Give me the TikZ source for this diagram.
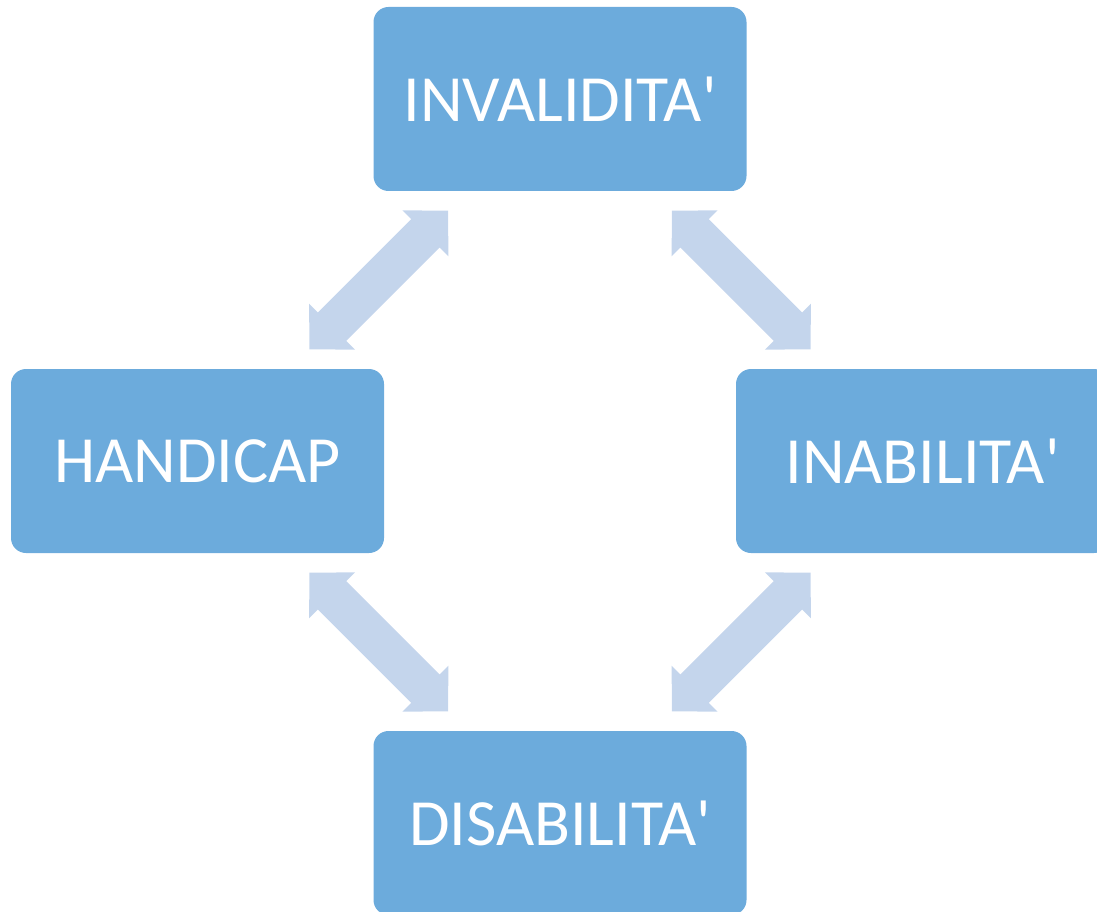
\documentclass[tikz,border=0pt]{standalone}
\usepackage{fontspec}
\setmainfont{Carlito}
\usetikzlibrary{calc}
\definecolor{boxblue}{HTML}{6CABDC}
\definecolor{arrowblue}{HTML}{C4D5EC}
\tikzset{
  x=1pt, y=-1pt,
  termbox/.style={fill=boxblue, rounded corners=15pt, minimum width=373pt, minimum height=184pt,
    inner sep=0pt, text=white, font=\fontsize{66}{66}\selectfont, anchor=center},
  blockarrow/.style={fill=arrowblue}
}
\newcommand\dblblockarrow[2]{%
  \fill[blockarrow, shift={(#1)}, rotate=#2]
    (98,0) -- (66,32.5) -- (66,20) -- (-66,20) -- (-66,32.5) -- (-98,0)
    -- (-66,-32.5) -- (-66,-20) -- (66,-20) -- (66,-32.5) -- cycle;}
\begin{document}
\begin{tikzpicture}
\useasboundingbox (0,0) rectangle (1097,912);
\node[termbox] (top) at (560,99) {INVALIDITA\textquotesingle};
\node[termbox] (left) at (197.5,461) {HANDICAP};
\node[termbox] (right) at (922.5,461) {INABILITA\textquotesingle};
\node[termbox] (bottom) at (560,823) {DISABILITA\textquotesingle};
\coordinate (tl) at ($(top.south west)!0.5!(left.north east)$);
\coordinate (tr) at ($(top.south east)!0.5!(right.north west)$);
\coordinate (bl) at ($(left.south east)!0.5!(bottom.north west)$);
\coordinate (br) at ($(right.south west)!0.5!(bottom.north east)$);
\dblblockarrow{tl}{45}
\dblblockarrow{tr}{-45}
\dblblockarrow{bl}{-45}
\dblblockarrow{br}{45}
\end{tikzpicture}
\end{document}
